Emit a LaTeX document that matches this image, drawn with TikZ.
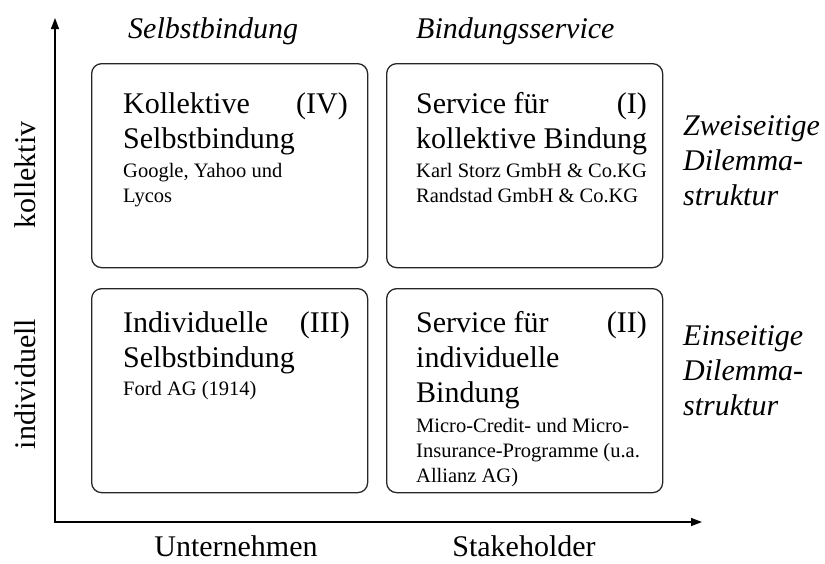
\documentclass[tikz,border=0pt]{standalone}
\usepackage{fontspec}
\setmainfont{Liberation Serif}
\usetikzlibrary{arrows.meta}
\begin{document}
\begin{tikzpicture}[x=1pt,y=-1pt,
  qbox/.style={draw=black!85, line width=1.3pt, rounded corners=10pt, minimum width=276pt, minimum height=204pt, anchor=north west, inner sep=0pt},
  big/.style={font=\fontsize{30}{35}\selectfont, inner sep=0pt, anchor=base west},
  small/.style={font=\fontsize{20.5}{25}\selectfont, inner sep=0pt, anchor=base west},
  num/.style={font=\fontsize{30}{35}\selectfont, inner sep=0pt, anchor=base east},
  head/.style={font=\fontsize{30}{35}\selectfont\itshape, inner sep=0pt, anchor=base west},
  axlab/.style={font=\fontsize{30}{35}\selectfont, inner sep=0pt, anchor=base},
  axis/.style={line width=1.3pt, {Triangle[length=11pt,width=8pt]}-{Triangle[length=11pt,width=8pt]}}]
\useasboundingbox (0,0) rectangle (825,563);
% axes
\coordinate (ytip) at (55,18);
\coordinate (orig) at (55,522);
\coordinate (xtip) at (702,522);
\draw[axis] (ytip) -- (orig) -- (xtip);
% boxes
\node[qbox] (q4) at (91,63) {};
\node[qbox] (q1) at (386,63) {};
\node[qbox] (q3) at (91,288) {};
\node[qbox] (q2) at (386,288) {};
% column headings
\node[head] (hsel) at (128,38) {Selbstbindung};
\node[head] (hbind) at (416,38) {Bindungsservice};
% box IV
\node[big] (t4a) at (123,113) {Kollektive};
\node[big] (t4b) at (123,148) {Selbstbindung};
\node[small] (t4c) at (123,177) {Google, Yahoo und};
\node[small] (t4d) at (123,202) {Lycos};
\node[num] (n4) at (348,113) {(IV)};
% box I
\node[big] (t1a) at (416,113) {Service für};
\node[big] (t1b) at (416,148) {kollektive Bindung};
\node[small] (t1c) at (416,177) {Karl Storz GmbH \& Co.KG};
\node[small] (t1d) at (416,202) {Randstad GmbH \& Co.KG};
\node[num] (n1) at (647,113) {(I)};
% box III
\node[big] (t3a) at (123,332) {Individuelle};
\node[big] (t3b) at (123,367) {Selbstbindung};
\node[small] (t3c) at (123,395) {Ford AG (1914)};
\node[num] (n3) at (350,332) {(III)};
% box II
\node[big] (t2a) at (416,332) {Service für};
\node[big] (t2b) at (416,367) {individuelle};
\node[big] (t2c) at (416,402) {Bindung};
\node[small] (t2d) at (416,432) {Micro-Credit- und Micro-};
\node[small] (t2e) at (416,457) {Insurance-Programme (u.a.};
\node[small] (t2f) at (416,482) {Allianz AG)};
\node[num] (n2) at (647,332) {(II)};
% right labels
\node[head] (r1a) at (683,135) {Zweiseitige};
\node[head] (r1b) at (683,170) {Dilemma-};
\node[head] (r1c) at (683,205) {struktur};
\node[head] (r2a) at (683,345) {Einseitige};
\node[head] (r2b) at (683,380) {Dilemma-};
\node[head] (r2c) at (683,415) {struktur};
% axis labels
\node[axlab, rotate=90] (lk) at (35,175) {kollektiv};
\node[axlab, rotate=90] (li) at (35,384) {individuell};
\node[axlab] (lu) at (236,556) {Unternehmen};
\node[axlab] (ls) at (524,556) {Stakeholder};
\end{tikzpicture}
\end{document}
